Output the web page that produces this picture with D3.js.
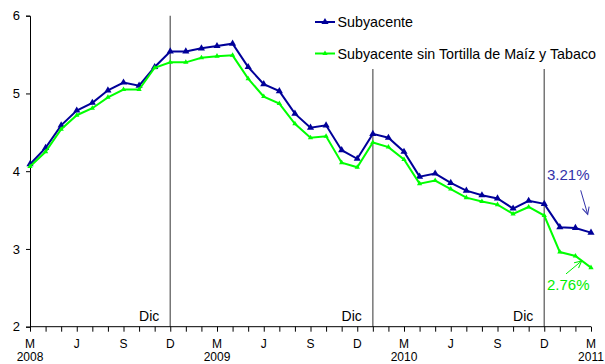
<!DOCTYPE html>
<html>
<head>
<meta charset="utf-8">
<script src="https://cdn.jsdelivr.net/npm/d3@7"></script>
<style>
  html, body { margin: 0; padding: 0; background: #fff; }
  svg { display: block; font-family: "Liberation Sans", Arial, sans-serif; }
</style>
</head>
<body>
<svg id="chart" width="605" height="364"></svg>
<script>
// Monthly categories, March 2008 to March 2011
const months = [
  "2008-03","2008-04","2008-05","2008-06","2008-07","2008-08","2008-09","2008-10","2008-11","2008-12",
  "2009-01","2009-02","2009-03","2009-04","2009-05","2009-06","2009-07","2009-08","2009-09","2009-10","2009-11","2009-12",
  "2010-01","2010-02","2010-03","2010-04","2010-05","2010-06","2010-07","2010-08","2010-09","2010-10","2010-11","2010-12",
  "2011-01","2011-02","2011-03"
];

// Annual core inflation, %
const subyacente = [
  4.09, 4.30, 4.59, 4.78, 4.88, 5.04, 5.14, 5.10, 5.34, 5.54,
  5.54, 5.58, 5.61, 5.64, 5.34, 5.12, 5.03, 4.74, 4.56, 4.59, 4.27, 4.16,
  4.48, 4.43, 4.25, 3.93, 3.97, 3.85, 3.75, 3.69, 3.65, 3.52, 3.62, 3.58,
  3.28, 3.27, 3.21
];
const subyacenteSinTortilla = [
  4.06, 4.25, 4.54, 4.72, 4.81, 4.95, 5.05, 5.05, 5.33, 5.40,
  5.40, 5.46, 5.48, 5.49, 5.19, 4.96, 4.87, 4.61, 4.43, 4.45, 4.11, 4.05,
  4.37, 4.31, 4.15, 3.84, 3.88, 3.77, 3.66, 3.61, 3.57, 3.45, 3.54, 3.43,
  2.96, 2.91, 2.76
];

const seriesNames = ["Subyacente", "Subyacente sin Tortilla de Maíz y Tabaco"];
const seriesColors = ["#000099", "#00ff00"];
const labelColors = ["#3333aa", "#00ee00"];

const yTicks = [2, 3, 4, 5, 6];
const monthTickKeys = ["2008-03","2008-06","2008-09","2008-12","2009-03","2009-06","2009-09","2009-12",
                       "2010-03","2010-06","2010-09","2010-12","2011-03"];
const monthTickLabels = ["M","J","S","D","M","J","S","D","M","J","S","D","M"];
const yearTickKeys = ["2008-03","2009-03","2010-03","2011-03"];
const yearTickLabels = ["2008","2009","2010","2011"];

// Reference lines marking December readings
const refLineKeys = ["2008-12","2010-01","2010-12"];
const refLineLabels = ["Dic","Dic","Dic"];

const svg = d3.select("#chart");

const x = d3.scalePoint().domain(months).range([30, 591]).padding(0);
const y = d3.scaleLinear().domain([2, 6]).range([326.7, 15.7]);

// Reference lines
const refTops = [y(6), 69, 69];
svg.append("g").selectAll("line")
  .data(refLineKeys)
  .join("line")
  .attr("x1", d => x(d)).attr("x2", d => x(d))
  .attr("y1", (d, i) => refTops[i]).attr("y2", y(2))
  .attr("stroke", "#777").attr("stroke-width", 1.5);

svg.append("g").selectAll("text")
  .data(refLineKeys)
  .join("text")
  .attr("x", d => x(d) - 11)
  .attr("y", 321)
  .attr("text-anchor", "end")
  .attr("font-size", 14)
  .attr("fill", "#000")
  .text((d, i) => refLineLabels[i]);

// Y axis
const yAxis = svg.append("g")
  .attr("transform", "translate(30,0)")
  .call(d3.axisLeft(y).tickValues(yTicks).tickSize(4).tickPadding(6).tickFormat(d3.format("d")));
yAxis.select(".domain").attr("stroke", "#000");
yAxis.selectAll(".tick line").attr("stroke", "#000");
yAxis.selectAll("text").attr("font-size", 13).attr("font-family", "Liberation Sans, Arial, sans-serif").attr("fill", "#000");

// X axis: a tick for every month
const xAxis = svg.append("g")
  .attr("transform", `translate(0,${y(2)})`)
  .call(d3.axisBottom(x).tickValues(months).tickSize(5).tickSizeOuter(0).tickFormat(""));
xAxis.select(".domain").attr("stroke", "#000").attr("d", `M30,0H${x(months[months.length - 1])}`);
xAxis.selectAll(".tick line").attr("stroke", "#000");

svg.append("g").selectAll("text")
  .data(monthTickKeys)
  .join("text")
  .attr("x", d => x(d))
  .attr("y", 347.8)
  .attr("text-anchor", "middle")
  .attr("font-size", 12)
  .attr("fill", "#000")
  .text((d, i) => monthTickLabels[i]);

svg.append("g").selectAll("text")
  .data(yearTickKeys)
  .join("text")
  .attr("x", d => x(d))
  .attr("y", 361.2)
  .attr("text-anchor", "middle")
  .attr("font-size", 12)
  .attr("fill", "#000")
  .text((d, i) => yearTickLabels[i]);

// Series lines and triangle markers
const allSeries = [subyacente, subyacenteSinTortilla];
const markerSizes = [22, 12];
const line = d3.line().x((d, i) => x(months[i])).y(d => y(d));

allSeries.forEach((vals, s) => {
  const g = svg.append("g");
  g.append("path")
    .datum(vals)
    .attr("d", line)
    .attr("fill", "none")
    .attr("stroke", seriesColors[s])
    .attr("stroke-width", 2)
    .attr("stroke-linejoin", "miter");
  g.selectAll("path.pt")
    .data(vals)
    .join("path")
    .attr("class", "pt")
    .attr("d", d3.symbol(d3.symbolTriangle, markerSizes[s]))
    .attr("transform", (d, i) => `translate(${x(months[i])},${y(d)})`)
    .attr("fill", seriesColors[s]);
});

// Legend
const legend = svg.append("g");
const legendY = [22, 53.5];
seriesNames.forEach((name, s) => {
  legend.append("line")
    .attr("x1", 315).attr("x2", 335)
    .attr("y1", legendY[s]).attr("y2", legendY[s])
    .attr("stroke", seriesColors[s]).attr("stroke-width", 2);
  legend.append("path")
    .attr("d", d3.symbol(d3.symbolTriangle, markerSizes[s])())
    .attr("transform", `translate(325,${legendY[s]})`)
    .attr("fill", seriesColors[s]);
  legend.append("text")
    .attr("x", 337.5)
    .attr("y", legendY[s] + 5)
    .attr("font-size", 14.3)
    .attr("fill", "#000")
    .text(name);
});

// Final-value callouts with arrows
const defs = svg.append("defs");
seriesColors.forEach((c, s) => {
  defs.append("marker")
    .attr("id", "arrow" + s)
    .attr("viewBox", "-8 -5 10 10")
    .attr("markerWidth", 10).attr("markerHeight", 10)
    .attr("markerUnits", "userSpaceOnUse")
    .attr("orient", "auto")
    .append("path")
    .attr("d", "M-7,-3.5L0,0L-7,3.5")
    .attr("fill", "none")
    .attr("stroke", labelColors[s])
    .attr("stroke-width", 1);
});

const lastKey = months[months.length - 1];
const fmt = d3.format(".2f");
const calloutText = [[-44, -53], [-44, 22]];
const arrowFrom = [[-10.3, -42.3], [-25, 6.3]];
const arrowTo = [[-3.3, -18.3], [-9.3, -6.7]];

allSeries.forEach((vals, s) => {
  const last = vals[vals.length - 1];
  const px = x(lastKey), py = y(last);
  svg.append("text")
    .attr("x", px + calloutText[s][0])
    .attr("y", py + calloutText[s][1])
    .attr("font-size", 15)
    .attr("fill", labelColors[s])
    .text(fmt(last) + "%");
  svg.append("line")
    .attr("x1", px + arrowFrom[s][0]).attr("y1", py + arrowFrom[s][1])
    .attr("x2", px + arrowTo[s][0]).attr("y2", py + arrowTo[s][1])
    .attr("stroke", labelColors[s]).attr("stroke-width", 1)
    .attr("marker-end", `url(#arrow${s})`);
});
</script>
</body>
</html>
